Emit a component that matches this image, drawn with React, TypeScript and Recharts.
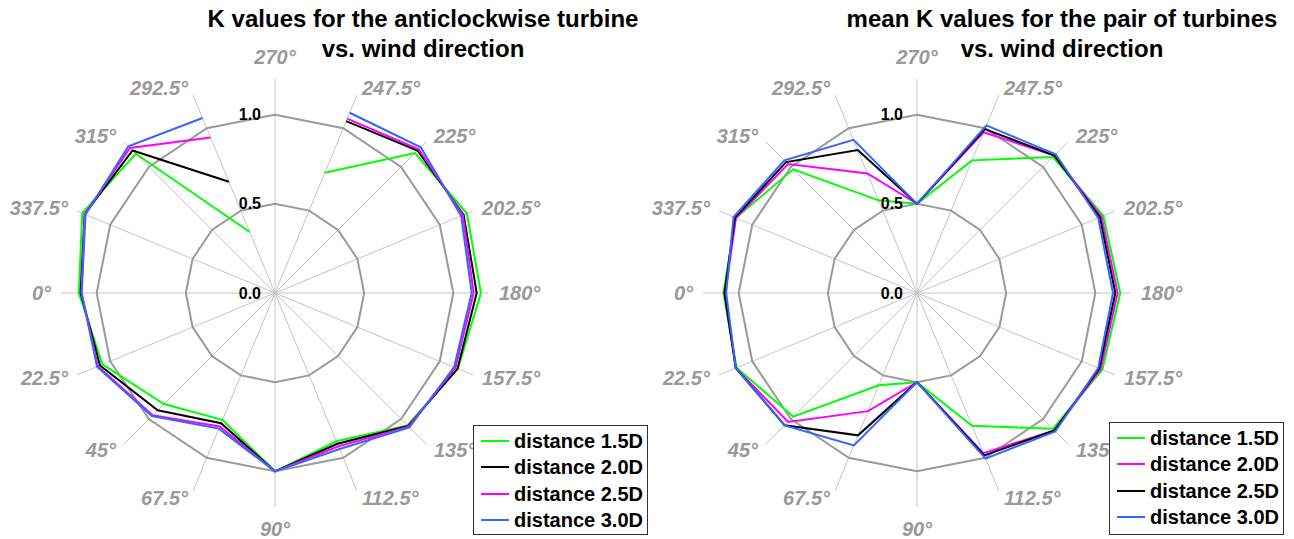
import { RadarChart, Radar, PolarGrid, PolarAngleAxis, PolarRadiusAxis, Legend } from "recharts";

// wind directions, clockwise starting at the right-hand spoke (180°)
const directions = [
  "180°", "157.5°", "135°", "112.5°", "90°", "67.5°", "45°", "22.5°",
  "0°", "337.5°", "315°", "292.5°", "270°", "247.5°", "225°", "202.5°",
];

const radiusTicks = [0, 0.5, 1.0];

// anticlockwise turbine (no reading at 270°)
const acw15 = [1.155, 1.11, 1.05, 0.9, 1.0, 0.77, 0.88, 1.047, 1.1, 1.17, 1.104, 0.37, null, 0.73, 1.11, 1.165];
const acw20 = [1.131, 1.108, 1.055, 0.915, 1.0, 0.79, 0.93, 1.062, 1.09, 1.155, 1.13, 0.675, null, 1.043, 1.13, 1.145];
const acw25 = [1.114, 1.095, 1.06, 0.93, 1.0, 0.81, 0.97, 1.075, 1.085, 1.155, 1.15, 0.944, null, 1.058, 1.14, 1.14];
const acw30 = [1.103, 1.087, 1.066, 0.947, 1.0, 0.823, 0.976, 1.08, 1.084, 1.15, 1.163, 1.062, null, 1.094, 1.156, 1.13];

// mean of the pair
const pair15 = [1.14, 1.125, 1.077, 0.806, 0.5, 0.56, 0.981, 1.095, 1.085, 1.1, 0.981, 0.5625, 0.5, 0.805, 1.078, 1.131];
const pair20 = [1.125, 1.115, 1.09, 0.972, 0.5, 0.717, 1.022, 1.1, 1.075, 1.099, 1.022, 0.726, 0.5, 0.976, 1.09, 1.12];
const pair25 = [1.112, 1.106, 1.09, 0.986, 0.5, 0.864, 1.049, 1.1, 1.08, 1.105, 1.038, 0.868, 0.5, 0.995, 1.09, 1.11];
const pair30 = [1.099, 1.1, 1.097, 1.005, 0.5, 0.925, 1.05, 1.1, 1.07, 1.113, 1.052, 0.93, 0.5, 1.017, 1.1, 1.1];

const GREEN = "#00ff00";
const BLACK = "#000000";
const MAGENTA = "#ff00ff";
const BLUE = "#3366ff";

const FONT = '"Liberation Sans", Arial, Helvetica, sans-serif';
const RADIAN = Math.PI / 180;

interface Series {
  name: string;
  color: string;
  values: (number | null)[];
}

const acwSeries: Series[] = [
  { name: "distance 1.5D", color: GREEN, values: acw15 },
  { name: "distance 2.0D", color: BLACK, values: acw20 },
  { name: "distance 2.5D", color: MAGENTA, values: acw25 },
  { name: "distance 3.0D", color: BLUE, values: acw30 },
];

const pairSeries: Series[] = [
  { name: "distance 1.5D", color: GREEN, values: pair15 },
  { name: "distance 2.0D", color: MAGENTA, values: pair20 },
  { name: "distance 2.5D", color: BLACK, values: pair25 },
  { name: "distance 3.0D", color: BLUE, values: pair30 },
];

// radar outline that leaves a gap where a direction has no reading
function GappedOutline(props: any) {
  const { points, stroke, strokeWidth } = props;
  const segs: any[][] = [[]];
  points.forEach((p: any) => {
    if (p.value == null) {
      if (segs[segs.length - 1].length) segs.push([]);
    } else {
      segs[segs.length - 1].push(p);
    }
  });
  if (!segs[segs.length - 1].length) segs.pop();
  const closed = segs.length === 1 && segs[0].length === points.length;
  if (!closed && segs.length > 1 && points[0].value != null) {
    segs[segs.length - 1].push(points[0]);
  }
  const d = segs
    .map((seg) => seg.map((p: any, i: number) => `${i ? "L" : "M"}${p.x},${p.y}`).join(""))
    .join("") + (closed ? "Z" : "");
  return <path d={d} fill="none" stroke={stroke} strokeWidth={strokeWidth} strokeLinejoin="miter" />;
}

function AngleTick(props: any) {
  const { x, y, payload } = props;
  const dx = Math.cos(-payload.coordinate * RADIAN);
  const dy = Math.sin(-payload.coordinate * RADIAN);
  let anchor = "middle";
  let tx = x;
  let ty = y;
  if (Math.abs(dx) < 0.1) {
    ty = y + dy * 14;
  } else {
    anchor = dx > 0 ? "start" : "end";
    tx = x + (dx > 0 ? 2 : -2);
  }
  return (
    <text x={tx} y={ty} textAnchor={anchor} dominantBaseline="central" fill="#999999"
          fontFamily={FONT} fontSize={20} fontWeight={700} fontStyle="italic">
      {payload.value}
    </text>
  );
}

function RadiusTick(props: any) {
  const { x, y, payload } = props;
  return (
    <text x={x - 14} y={y} textAnchor="end" dominantBaseline="central" fill="#000"
          fontFamily={FONT} fontSize={16} fontWeight={700}>
      {Number(payload.value).toFixed(1)}
    </text>
  );
}

function LegendBox({ series, height }: { series: Series[]; height: number }) {
  return (
    <div style={{
      width: 175, height, boxSizing: "border-box", border: "1px solid #333", background: "#fff",
      paddingTop: 2, fontFamily: FONT, fontWeight: 700, fontSize: 20, color: "#000",
    }}>
      {series.map((s) => (
        <div key={s.name} style={{ display: "flex", alignItems: "center", height: 26.3 }}>
          <span style={{ width: 28, borderTop: `2px solid ${s.color}`, marginLeft: 7, marginRight: 5 }} />
          <span style={{ lineHeight: "26px", whiteSpace: "nowrap" }}>{s.name}</span>
        </div>
      ))}
    </div>
  );
}

function Panel({
  series, cx, legendLeft, legendTop, legendHeight,
}: {
  series: Series[];
  cx: number;
  legendLeft: number;
  legendTop: number;
  legendHeight: number;
}) {
  const data = directions.map((d, i) => {
    const row: Record<string, string | number | null> = { dir: d };
    series.forEach((s, si) => (row[`s${si}`] = s.values[i]));
    return row;
  });

  return (
    <RadarChart width={647} height={539} data={data} cx={cx} cy={293} outerRadius={214}
                startAngle={0} endAngle={-360} margin={{ top: 0, right: 0, bottom: 0, left: 0 }}>
      <PolarGrid polarRadius={[]} stroke="#c4c4c4" strokeWidth={1} />
      <PolarGrid radialLines={false} gridType="polygon" stroke="#9a9a9a" strokeWidth={2} />
      <PolarAngleAxis dataKey="dir" axisLine={false} tickLine={false} tickSize={8} tick={AngleTick} />
      <PolarRadiusAxis angle={90} domain={[0, 1.2]} ticks={radiusTicks} axisLine={false}
                       tickLine={false} tick={RadiusTick} />
      {series.map((s, si) => (
        <Radar key={si} name={s.name} dataKey={`s${si}`} stroke={s.color} strokeWidth={2}
               fill="none" dot={false} isAnimationActive={false} shape={GappedOutline} />
      ))}
      <Legend layout="vertical" align="right" verticalAlign="bottom"
              wrapperStyle={{ left: legendLeft, top: legendTop, right: "auto", bottom: "auto", width: 175 }}
              content={() => <LegendBox series={series} height={legendHeight} />} />
    </RadarChart>
  );
}

const titleStyle = {
  position: "absolute" as const, top: 4, width: 640, textAlign: "center" as const,
  fontFamily: FONT, fontWeight: 700, fontSize: 24, lineHeight: "30px", color: "#000",
};

export default function App() {
  return (
    <div style={{ position: "absolute", left: 0, top: 0, width: 1294, height: 539, background: "#fff", overflow: "hidden" }}>
      <div style={{ position: "absolute", left: 0, top: 0 }}>
        <Panel series={acwSeries} cx={275} legendLeft={473} legendTop={425} legendHeight={110} />
      </div>
      <div style={{ position: "absolute", left: 647, top: 0 }}>
        <Panel series={pairSeries} cx={270} legendLeft={462} legendTop={422} legendHeight={113} />
      </div>
      <div style={{ ...titleStyle, left: 423 - 320 }}>
        K values for the anticlockwise turbine<br />vs. wind direction
      </div>
      <div style={{ ...titleStyle, left: 1062 - 320 }}>
        mean K values for the pair of turbines<br />vs. wind direction
      </div>
    </div>
  );
}
